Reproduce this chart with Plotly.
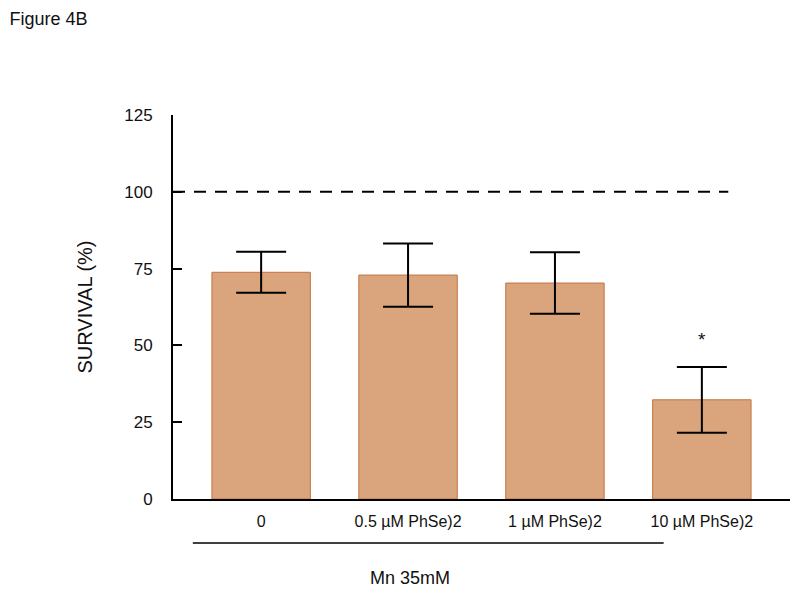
import plotly.graph_objects as go

categories = ["0", "0.5 µM PhSe)2", "1 µM PhSe)2", "10 µM PhSe)2"]
survival = [73.8, 72.9, 70.3, 32.3]
errors = [6.7, 10.3, 10.0, 10.7]
y_ticks = [0, 25, 50, 75, 100, 125]
control_level = 100
group_label = "Mn 35mM"
signif_label = "*"
signif_index = 3

FONT = "Liberation Sans, Arial, sans-serif"

fig = go.Figure()
fig.add_trace(go.Bar(
    x=list(range(len(categories))),
    y=survival,
    width=0.67,
    marker=dict(color="#DAA47D", line=dict(color="#C57340", width=1)),
    error_y=dict(type="data", array=errors, visible=True, color="black",
                 thickness=2, width=25),
    showlegend=False,
))

# dashed control line
fig.add_shape(type="line", xref="x", yref="y", x0=-0.6, x1=3.18,
              y0=control_level, y1=control_level,
              line=dict(color="black", width=2, dash="12px,9px"))

# group line below tick labels
fig.add_shape(type="line", xref="x", yref="paper", x0=-0.465, x1=2.74,
              y0=-0.1146, y1=-0.1146, line=dict(color="black", width=1.5))

fig.add_annotation(x=1.01, xref="x", y=-0.206, yref="paper", yanchor="middle",
                   text=group_label, showarrow=False,
                   font=dict(size=18, color="#111", family=FONT))

fig.add_annotation(x=signif_index, xref="x",
                   y=survival[signif_index] + errors[signif_index] + 9, yref="y",
                   yanchor="middle", text=signif_label, showarrow=False,
                   font=dict(size=19, color="#111", family=FONT))

fig.update_layout(
    width=792, height=587,
    margin=dict(l=165, r=10, t=107, b=96),
    paper_bgcolor="white", plot_bgcolor="white",
    font=dict(family=FONT, color="#111"),
    title=dict(text="Figure 4B", x=0.002, xanchor="left", xref="container",
               y=0.993, yanchor="top", yref="container",
               pad=dict(l=0, r=0, t=0, b=0),
               font=dict(size=18, color="#111", family=FONT)),
    xaxis=dict(
        range=[-0.6, 3.6],
        tickmode="array", tickvals=list(range(len(categories))), ticktext=categories,
        showline=True, linecolor="black", linewidth=2,
        ticks="", showgrid=False, zeroline=False,
        tickfont=dict(size=16, color="#111"),
        ticklabelstandoff=7,
    ),
    yaxis=dict(
        range=[0, 125],
        tickmode="array", tickvals=y_ticks,
        showline=True, linecolor="black", linewidth=2,
        ticks="inside", ticklen=9, tickwidth=2, tickcolor="black",
        showgrid=False, zeroline=False,
        tickfont=dict(size=17, color="#111"),
        ticklabelstandoff=15,
        title=dict(text="SURVIVAL (%)", font=dict(size=20, color="#111"), standoff=26),
    ),
)

fig.write_html("out.html")
